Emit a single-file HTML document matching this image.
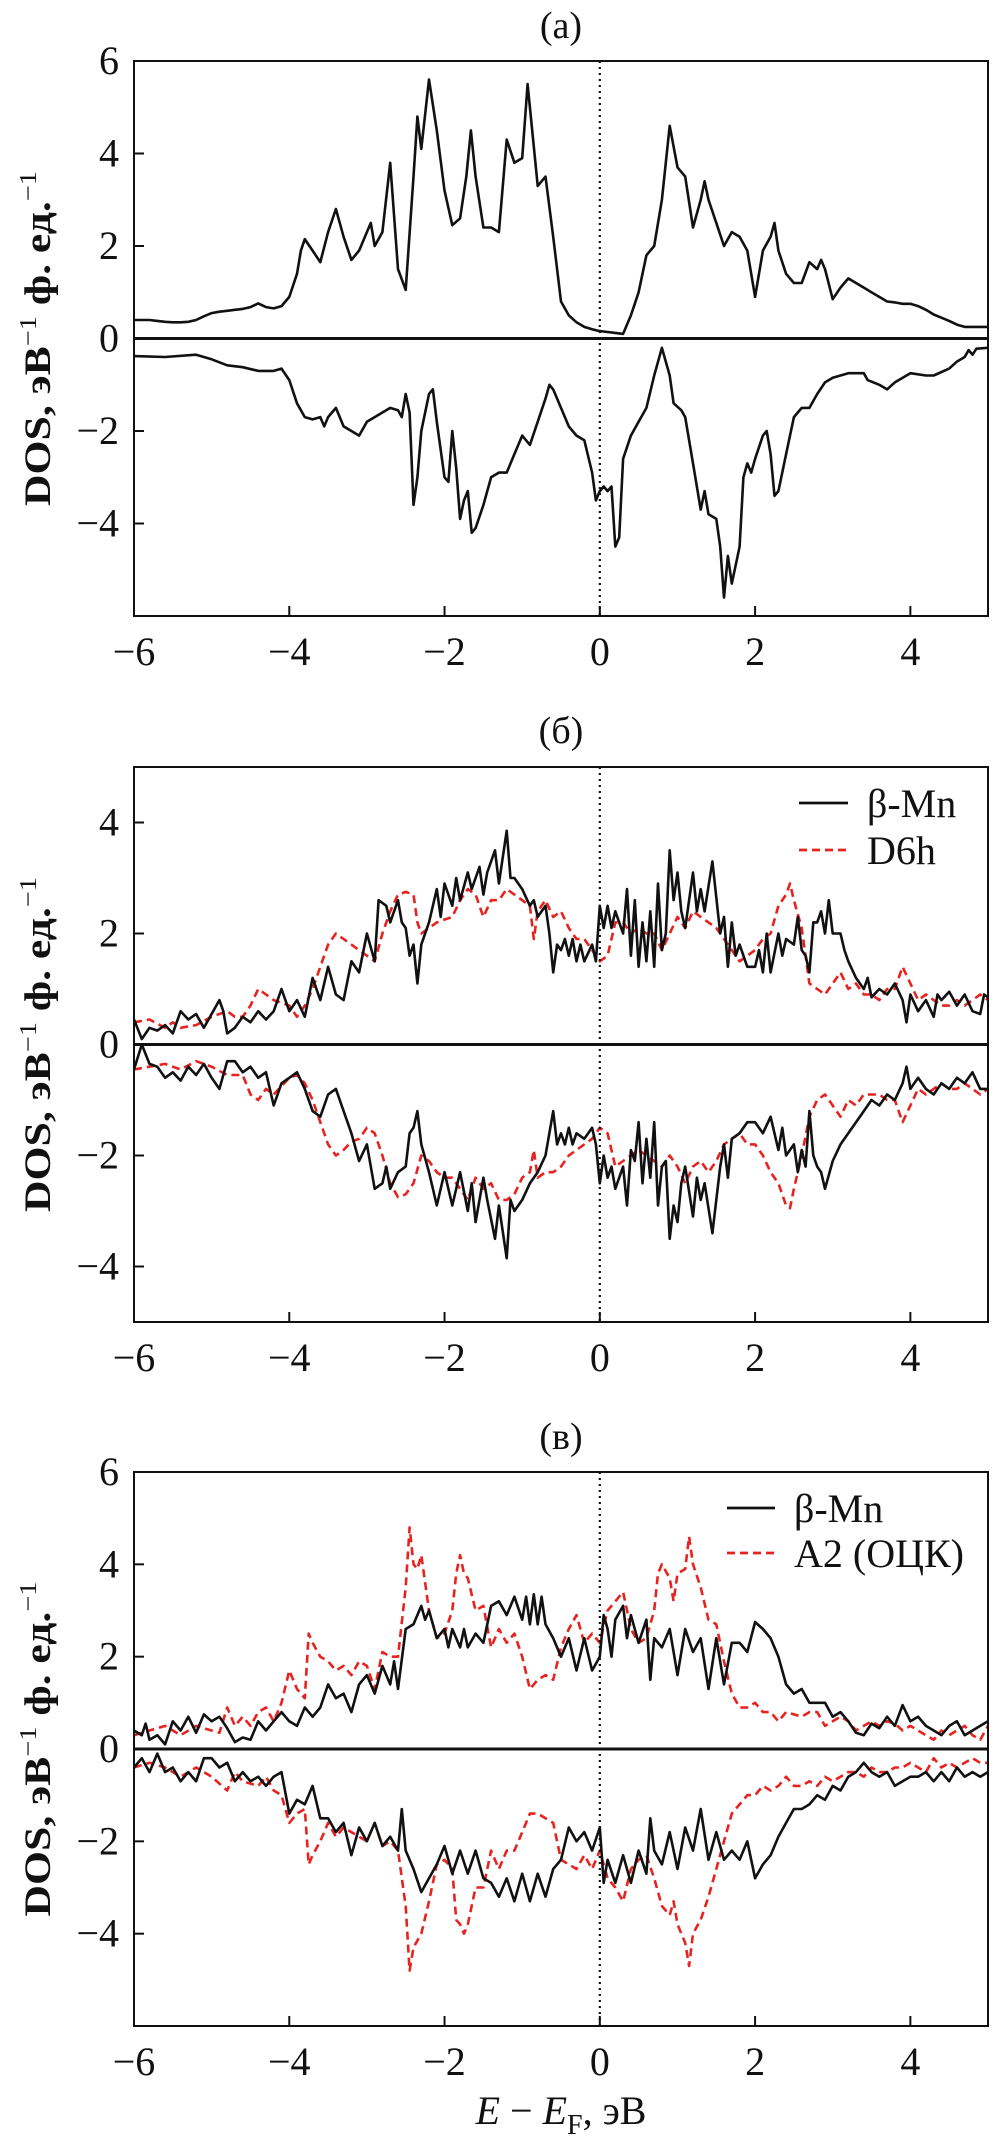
<!DOCTYPE html>
<html><head><meta charset="utf-8"><style>
html,body{margin:0;padding:0;background:#fff}
svg{display:block}
text{font-family:"Liberation Serif",serif;fill:#111}
</style></head><body>
<svg id="fig" width="995" height="2142" viewBox="0 0 995 2142" xmlns="http://www.w3.org/2000/svg"></svg>
<script>
const xTicks=[-6,-4,-2,0,2,4];
const yTicksA=[-4,-2,0,2,4,6];
const yTicksB=[-4,-2,0,2,4];
const yTicksC=[-4,-2,0,2,4,6];

const aUp=[[-6,0.4],[-5.9,0.4],[-5.8,0.4],[-5.7,0.38],[-5.6,0.36],[-5.5,0.35],[-5.4,0.35],[-5.3,0.36],[-5.2,0.4],[-5.1,0.48],[-5,0.55],[-4.9,0.58],[-4.8,0.6],[-4.7,0.62],[-4.6,0.64],[-4.5,0.68],[-4.4,0.76],[-4.3,0.68],[-4.2,0.65],[-4.1,0.7],[-4,0.9],[-3.9,1.4],[-3.85,1.9],[-3.8,2.15],[-3.7,1.9],[-3.6,1.65],[-3.5,2.3],[-3.4,2.8],[-3.3,2.2],[-3.2,1.7],[-3.1,1.9],[-3.0,2.3],[-2.95,2.5],[-2.9,2.0],[-2.8,2.3],[-2.7,3.8],[-2.6,1.5],[-2.5,1.05],[-2.4,3.5],[-2.35,4.8],[-2.3,4.1],[-2.2,5.6],[-2.1,4.5],[-2.0,3.2],[-1.9,2.45],[-1.8,2.6],[-1.72,3.5],[-1.66,4.5],[-1.6,3.5],[-1.5,2.4],[-1.4,2.4],[-1.3,2.3],[-1.2,4.3],[-1.1,3.8],[-1.0,3.9],[-0.93,5.5],[-0.9,5.0],[-0.8,3.3],[-0.7,3.5],[-0.6,2.2],[-0.5,0.8],[-0.4,0.5],[-0.3,0.35],[-0.2,0.25],[-0.1,0.2],[0,0.16],[0.1,0.14],[0.2,0.12],[0.3,0.1],[0.4,0.5],[0.5,1.0],[0.6,1.8],[0.7,2.0],[0.8,3.0],[0.9,4.6],[1.0,3.7],[1.1,3.5],[1.2,2.4],[1.3,3.0],[1.35,3.4],[1.4,3.0],[1.5,2.5],[1.6,2.0],[1.7,2.3],[1.8,2.2],[1.9,1.9],[2.0,0.9],[2.1,1.9],[2.2,2.2],[2.25,2.5],[2.3,1.9],[2.4,1.4],[2.5,1.2],[2.6,1.2],[2.7,1.65],[2.8,1.5],[2.85,1.7],[2.9,1.5],[3.0,0.85],[3.1,1.1],[3.2,1.3],[3.3,1.2],[3.4,1.1],[3.5,1.0],[3.6,0.9],[3.7,0.8],[3.8,0.78],[3.9,0.75],[4.0,0.75],[4.1,0.7],[4.2,0.62],[4.3,0.52],[4.4,0.45],[4.5,0.38],[4.6,0.3],[4.7,0.25],[4.8,0.25],[5.0,0.25]];
const aDown=[[-6,-0.38],[-5.6,-0.4],[-5.2,-0.35],[-5.0,-0.45],[-4.8,-0.58],[-4.6,-0.62],[-4.4,-0.7],[-4.2,-0.7],[-4.1,-0.65],[-4.0,-0.9],[-3.9,-1.4],[-3.8,-1.7],[-3.7,-1.75],[-3.6,-1.7],[-3.55,-1.9],[-3.5,-1.7],[-3.4,-1.5],[-3.3,-1.9],[-3.2,-2.0],[-3.1,-2.1],[-3.0,-1.8],[-2.9,-1.7],[-2.8,-1.6],[-2.7,-1.5],[-2.6,-1.55],[-2.55,-1.7],[-2.5,-1.2],[-2.45,-1.6],[-2.4,-3.6],[-2.35,-3.0],[-2.3,-2.0],[-2.2,-1.2],[-2.15,-1.1],[-2.1,-1.8],[-2.0,-3.0],[-1.95,-3.1],[-1.9,-2.0],[-1.85,-2.8],[-1.8,-3.9],[-1.75,-3.5],[-1.7,-3.3],[-1.65,-4.2],[-1.6,-4.1],[-1.5,-3.6],[-1.4,-3.0],[-1.3,-2.9],[-1.2,-2.9],[-1.1,-2.5],[-1.0,-2.1],[-0.9,-2.3],[-0.8,-1.8],[-0.7,-1.3],[-0.65,-1.0],[-0.6,-1.1],[-0.5,-1.5],[-0.4,-1.9],[-0.35,-2.0],[-0.3,-2.1],[-0.2,-2.2],[-0.1,-2.9],[-0.05,-3.5],[0,-3.3],[0.05,-3.2],[0.1,-3.3],[0.15,-3.2],[0.2,-4.5],[0.25,-4.3],[0.3,-2.6],[0.4,-2.1],[0.5,-1.8],[0.6,-1.5],[0.7,-0.8],[0.8,-0.2],[0.9,-0.8],[0.95,-1.4],[1.05,-1.55],[1.1,-1.7],[1.2,-2.7],[1.3,-3.7],[1.35,-3.3],[1.4,-3.8],[1.5,-3.9],[1.55,-4.5],[1.6,-5.6],[1.65,-4.7],[1.7,-5.3],[1.8,-4.5],[1.85,-3.0],[1.9,-2.7],[1.95,-2.9],[2.0,-2.6],[2.1,-2.1],[2.15,-2.0],[2.2,-2.5],[2.25,-3.4],[2.3,-3.3],[2.4,-2.5],[2.5,-1.7],[2.6,-1.5],[2.7,-1.5],[2.8,-1.2],[2.9,-0.95],[3.0,-0.85],[3.2,-0.75],[3.4,-0.75],[3.45,-0.9],[3.6,-1.0],[3.7,-1.1],[3.8,-0.95],[4.0,-0.75],[4.2,-0.8],[4.3,-0.8],[4.5,-0.65],[4.6,-0.5],[4.7,-0.4],[4.75,-0.25],[4.8,-0.35],[4.85,-0.22],[5.0,-0.2]];

const bBlackUp=[[-6,0.45],[-5.9,0.1],[-5.8,0.3],[-5.7,0.25],[-5.6,0.35],[-5.5,0.2],[-5.4,0.6],[-5.3,0.45],[-5.2,0.55],[-5.1,0.3],[-5.0,0.55],[-4.9,0.8],[-4.85,0.6],[-4.8,0.2],[-4.7,0.3],[-4.6,0.5],[-4.5,0.4],[-4.4,0.6],[-4.3,0.45],[-4.2,0.6],[-4.1,1.0],[-4.0,0.6],[-3.9,0.8],[-3.8,0.5],[-3.7,1.2],[-3.6,0.8],[-3.5,1.4],[-3.4,0.9],[-3.3,0.8],[-3.2,1.5],[-3.1,1.3],[-3.0,2.0],[-2.9,1.5],[-2.85,2.6],[-2.75,2.5],[-2.7,2.2],[-2.6,2.6],[-2.55,2.2],[-2.5,2.1],[-2.45,1.6],[-2.4,1.8],[-2.35,1.1],[-2.3,1.8],[-2.2,2.2],[-2.1,2.8],[-2.05,2.3],[-2.0,2.9],[-1.9,2.5],[-1.85,3.0],[-1.8,2.6],[-1.7,3.1],[-1.65,2.8],[-1.55,3.2],[-1.5,2.7],[-1.45,3.1],[-1.35,3.5],[-1.3,2.9],[-1.2,3.85],[-1.15,3.0],[-1.1,3.0],[-1.0,2.8],[-0.9,2.5],[-0.85,2.6],[-0.8,2.3],[-0.7,2.5],[-0.65,2.0],[-0.6,1.3],[-0.55,1.8],[-0.5,1.7],[-0.45,1.9],[-0.4,1.6],[-0.35,1.9],[-0.3,1.5],[-0.25,1.8],[-0.2,1.5],[-0.1,1.8],[-0.05,1.5],[0,2.5],[0.05,2.1],[0.1,2.5],[0.15,2.1],[0.2,2.4],[0.3,2.0],[0.35,2.8],[0.4,1.6],[0.45,2.6],[0.5,1.4],[0.55,2.2],[0.6,1.5],[0.65,2.4],[0.7,1.4],[0.75,2.9],[0.8,1.7],[0.85,2.0],[0.9,3.5],[0.95,2.6],[1.0,3.1],[1.05,2.4],[1.1,2.1],[1.2,3.1],[1.25,2.4],[1.3,2.8],[1.35,2.4],[1.45,3.3],[1.55,2.0],[1.6,2.3],[1.65,1.4],[1.7,2.2],[1.75,1.6],[1.8,1.8],[1.9,1.4],[2.0,1.4],[2.05,1.7],[2.1,1.3],[2.15,2.0],[2.2,1.3],[2.3,2.0],[2.35,1.6],[2.4,1.9],[2.5,1.8],[2.55,2.3],[2.6,1.7],[2.65,1.6],[2.7,1.3],[2.75,2.2],[2.8,2.2],[2.85,2.4],[2.9,2.0],[2.95,2.6],[3.0,2.0],[3.1,2.0],[3.15,1.7],[3.2,1.5],[3.3,1.2],[3.4,1.0],[3.45,1.2],[3.5,0.85],[3.6,1.0],[3.7,0.9],[3.8,1.1],[3.9,0.8],[3.95,0.4],[4.0,0.9],[4.1,0.6],[4.2,0.8],[4.3,0.5],[4.35,0.9],[4.4,0.8],[4.5,0.95],[4.6,0.7],[4.7,0.9],[4.8,0.6],[4.9,0.55],[4.95,0.9],[5.0,0.85]];
const bRedUp=[[-6,0.4],[-5.8,0.45],[-5.6,0.3],[-5.5,0.4],[-5.4,0.3],[-5.2,0.35],[-5.0,0.5],[-4.8,0.6],[-4.7,0.5],[-4.6,0.5],[-4.5,0.7],[-4.4,1.0],[-4.3,0.9],[-4.2,0.8],[-4.0,0.7],[-3.9,0.5],[-3.8,0.7],[-3.7,1.0],[-3.6,1.4],[-3.5,1.8],[-3.4,2.0],[-3.3,1.9],[-3.2,1.8],[-3.1,1.7],[-3.0,1.6],[-2.9,1.5],[-2.8,2.0],[-2.7,2.4],[-2.6,2.7],[-2.5,2.75],[-2.4,2.7],[-2.35,2.2],[-2.3,2.0],[-2.2,2.1],[-2.1,2.2],[-2.0,2.25],[-1.9,2.3],[-1.8,2.6],[-1.7,2.8],[-1.6,2.7],[-1.5,2.3],[-1.4,2.6],[-1.3,2.6],[-1.2,2.8],[-1.1,2.7],[-1.0,2.6],[-0.9,2.5],[-0.85,1.9],[-0.8,2.4],[-0.7,2.6],[-0.6,2.3],[-0.5,2.4],[-0.4,2.1],[-0.3,1.9],[-0.2,1.9],[-0.1,1.7],[0,1.5],[0.1,1.6],[0.2,2.2],[0.3,2.2],[0.4,2.0],[0.5,2.1],[0.6,2.0],[0.7,2.0],[0.8,1.7],[0.9,2.0],[1.0,2.3],[1.1,2.1],[1.2,2.4],[1.3,2.3],[1.4,2.2],[1.5,2.1],[1.6,1.9],[1.7,1.7],[1.8,1.5],[1.9,1.6],[2.0,1.7],[2.1,1.9],[2.2,2.0],[2.3,2.5],[2.4,2.7],[2.45,2.9],[2.5,2.6],[2.6,2.1],[2.7,1.1],[2.8,1.0],[2.9,0.9],[3.0,1.1],[3.1,1.3],[3.2,1.0],[3.3,1.1],[3.4,0.9],[3.5,0.9],[3.6,0.8],[3.7,1.0],[3.8,1.0],[3.9,1.4],[4.0,1.1],[4.1,0.8],[4.2,0.9],[4.3,0.8],[4.4,0.7],[4.5,0.7],[4.6,0.8],[4.7,0.7],[4.8,0.8],[4.9,0.9],[5.0,0.8]];
const bBlackDown=[[-6,-0.45],[-5.9,0.0],[-5.8,-0.35],[-5.7,-0.4],[-5.6,-0.6],[-5.5,-0.5],[-5.4,-0.65],[-5.3,-0.4],[-5.2,-0.55],[-5.1,-0.35],[-5.0,-0.6],[-4.9,-0.8],[-4.8,-0.3],[-4.7,-0.3],[-4.6,-0.5],[-4.5,-0.4],[-4.4,-0.6],[-4.3,-0.5],[-4.2,-1.1],[-4.1,-0.7],[-4.0,-0.6],[-3.9,-0.5],[-3.8,-0.8],[-3.7,-1.2],[-3.6,-1.3],[-3.5,-0.9],[-3.4,-0.8],[-3.3,-1.2],[-3.2,-1.6],[-3.1,-2.1],[-3.0,-1.8],[-2.9,-2.6],[-2.8,-2.5],[-2.75,-2.2],[-2.7,-2.6],[-2.6,-2.3],[-2.5,-2.2],[-2.45,-1.6],[-2.4,-1.5],[-2.35,-1.2],[-2.3,-1.8],[-2.2,-2.3],[-2.1,-2.9],[-2.05,-2.6],[-2.0,-2.3],[-1.9,-2.9],[-1.8,-2.3],[-1.7,-3.0],[-1.65,-2.5],[-1.6,-3.2],[-1.5,-2.4],[-1.45,-2.8],[-1.35,-3.5],[-1.3,-2.9],[-1.2,-3.85],[-1.15,-2.8],[-1.1,-3.0],[-1.0,-2.8],[-0.9,-2.5],[-0.8,-2.3],[-0.7,-2.0],[-0.6,-1.2],[-0.55,-1.8],[-0.5,-1.6],[-0.45,-1.8],[-0.4,-1.5],[-0.35,-1.8],[-0.3,-1.6],[-0.2,-1.7],[-0.1,-1.5],[-0.05,-1.8],[0,-2.5],[0.05,-2.0],[0.1,-2.4],[0.15,-2.2],[0.2,-2.6],[0.3,-2.2],[0.35,-2.9],[0.4,-1.9],[0.45,-2.1],[0.5,-1.4],[0.55,-2.5],[0.6,-1.7],[0.65,-2.4],[0.7,-1.4],[0.75,-2.9],[0.8,-2.2],[0.85,-2.1],[0.9,-3.5],[0.95,-2.9],[1.0,-3.2],[1.05,-2.5],[1.1,-2.2],[1.2,-3.1],[1.25,-2.4],[1.3,-2.8],[1.35,-2.5],[1.45,-3.4],[1.55,-2.2],[1.6,-1.8],[1.65,-2.4],[1.7,-1.7],[1.8,-1.6],[1.9,-1.4],[2.0,-1.4],[2.1,-1.6],[2.2,-1.3],[2.3,-1.9],[2.35,-1.5],[2.4,-2.0],[2.5,-1.8],[2.55,-2.3],[2.6,-1.9],[2.65,-2.2],[2.7,-1.2],[2.75,-2.0],[2.8,-2.2],[2.85,-2.3],[2.9,-2.6],[3.0,-2.1],[3.1,-1.8],[3.2,-1.6],[3.3,-1.4],[3.4,-1.2],[3.5,-1.0],[3.6,-1.1],[3.7,-0.9],[3.8,-1.0],[3.9,-0.7],[3.95,-0.4],[4.0,-0.8],[4.1,-0.6],[4.2,-0.8],[4.3,-0.9],[4.4,-0.7],[4.5,-0.8],[4.6,-0.6],[4.7,-0.7],[4.8,-0.5],[4.9,-0.8],[5.0,-0.8]];
const bRedDown=[[-6,-0.45],[-5.8,-0.4],[-5.6,-0.35],[-5.4,-0.45],[-5.2,-0.3],[-5.0,-0.4],[-4.8,-0.55],[-4.6,-0.55],[-4.5,-0.9],[-4.4,-1.0],[-4.3,-0.8],[-4.2,-0.9],[-4.0,-0.6],[-3.9,-0.55],[-3.8,-0.7],[-3.7,-1.0],[-3.6,-1.4],[-3.5,-1.8],[-3.4,-2.0],[-3.3,-1.9],[-3.2,-1.75],[-3.1,-1.7],[-3.0,-1.5],[-2.9,-1.6],[-2.8,-2.0],[-2.7,-2.5],[-2.6,-2.75],[-2.5,-2.7],[-2.4,-2.5],[-2.3,-2.0],[-2.2,-2.1],[-2.1,-2.3],[-2.0,-2.4],[-1.9,-2.4],[-1.8,-2.6],[-1.7,-2.8],[-1.6,-2.4],[-1.5,-2.6],[-1.4,-2.5],[-1.3,-2.8],[-1.2,-2.8],[-1.1,-2.7],[-1.0,-2.4],[-0.9,-2.3],[-0.85,-1.9],[-0.8,-2.4],[-0.7,-2.3],[-0.6,-2.3],[-0.5,-2.2],[-0.4,-2.0],[-0.3,-1.9],[-0.2,-1.8],[-0.1,-1.7],[0,-1.5],[0.1,-1.6],[0.2,-2.2],[0.3,-2.1],[0.4,-2.0],[0.5,-1.9],[0.6,-2.0],[0.7,-2.1],[0.8,-2.2],[0.9,-2.0],[1.0,-2.2],[1.1,-2.5],[1.2,-2.2],[1.3,-2.1],[1.4,-2.3],[1.5,-2.1],[1.6,-1.8],[1.7,-1.7],[1.8,-1.6],[1.9,-1.8],[2.0,-1.8],[2.1,-2.0],[2.2,-2.3],[2.3,-2.5],[2.4,-2.9],[2.45,-2.95],[2.5,-2.6],[2.6,-2.0],[2.7,-1.3],[2.8,-1.0],[2.9,-0.9],[3.0,-1.1],[3.1,-1.3],[3.2,-1.0],[3.3,-1.1],[3.4,-0.9],[3.5,-0.9],[3.6,-0.9],[3.7,-1.0],[3.8,-1.0],[3.9,-1.4],[4.0,-1.1],[4.1,-0.8],[4.2,-0.9],[4.3,-0.8],[4.4,-0.7],[4.5,-0.8],[4.6,-0.8],[4.7,-0.7],[4.8,-0.8],[4.9,-0.9],[5.0,-0.8]];

const cBlackUp=[[-6,0.4],[-5.9,0.3],[-5.85,0.55],[-5.8,0.2],[-5.7,0.3],[-5.6,0.1],[-5.5,0.6],[-5.4,0.4],[-5.3,0.7],[-5.2,0.35],[-5.1,0.75],[-5.0,0.6],[-4.9,0.7],[-4.8,0.45],[-4.7,0.15],[-4.6,0.25],[-4.5,0.2],[-4.4,0.6],[-4.3,0.4],[-4.2,0.6],[-4.1,0.8],[-4.0,0.6],[-3.9,0.5],[-3.8,0.9],[-3.7,0.7],[-3.6,0.9],[-3.5,1.4],[-3.4,1.1],[-3.3,1.2],[-3.2,0.8],[-3.1,1.4],[-3.0,1.6],[-2.9,1.2],[-2.8,1.8],[-2.7,1.4],[-2.65,1.9],[-2.6,1.3],[-2.5,2.6],[-2.4,2.7],[-2.3,3.1],[-2.25,2.8],[-2.2,3.0],[-2.1,2.4],[-2.0,2.6],[-1.95,2.2],[-1.9,2.6],[-1.8,2.2],[-1.75,2.6],[-1.7,2.2],[-1.6,2.5],[-1.5,2.3],[-1.4,3.1],[-1.3,3.2],[-1.2,2.9],[-1.1,3.3],[-1.0,2.8],[-0.95,3.3],[-0.9,2.7],[-0.85,3.35],[-0.8,2.7],[-0.75,3.3],[-0.7,2.7],[-0.6,2.4],[-0.5,2.0],[-0.4,2.4],[-0.3,1.7],[-0.2,2.4],[-0.1,1.7],[0,2.0],[0.05,2.9],[0.1,2.6],[0.15,2.0],[0.2,2.8],[0.3,3.1],[0.35,2.4],[0.4,2.9],[0.5,2.3],[0.6,2.8],[0.65,1.5],[0.7,2.4],[0.8,2.2],[0.9,2.6],[1.0,1.6],[1.1,2.6],[1.2,2.1],[1.3,2.4],[1.4,1.3],[1.5,2.4],[1.6,1.4],[1.7,2.3],[1.8,2.3],[1.9,2.1],[2.0,2.75],[2.1,2.6],[2.2,2.4],[2.3,2.0],[2.4,1.4],[2.5,1.2],[2.6,1.3],[2.7,1.0],[2.8,1.0],[2.9,1.0],[3.0,0.7],[3.1,0.8],[3.2,0.6],[3.3,0.35],[3.4,0.3],[3.5,0.55],[3.6,0.45],[3.7,0.7],[3.8,0.5],[3.9,0.95],[4.0,0.6],[4.1,0.7],[4.2,0.5],[4.3,0.4],[4.4,0.3],[4.5,0.5],[4.6,0.6],[4.7,0.3],[4.8,0.4],[4.9,0.5],[5.0,0.6]];
const cRedUp=[[-6,0.3],[-5.8,0.4],[-5.6,0.5],[-5.4,0.3],[-5.2,0.5],[-5.0,0.4],[-4.9,0.35],[-4.8,0.9],[-4.7,0.5],[-4.6,0.7],[-4.5,0.5],[-4.4,0.8],[-4.3,0.9],[-4.2,0.6],[-4.1,1.0],[-4.0,1.7],[-3.9,1.3],[-3.8,1.1],[-3.75,2.5],[-3.7,2.3],[-3.6,2.0],[-3.5,1.9],[-3.4,1.7],[-3.3,1.8],[-3.2,1.6],[-3.1,1.9],[-3.0,1.8],[-2.9,1.3],[-2.8,2.1],[-2.7,2.0],[-2.6,2.0],[-2.5,3.5],[-2.45,4.8],[-2.4,4.0],[-2.35,3.9],[-2.3,4.2],[-2.2,3.0],[-2.1,2.4],[-2.0,2.5],[-1.9,3.0],[-1.85,3.8],[-1.8,4.2],[-1.75,3.8],[-1.7,3.7],[-1.6,3.0],[-1.5,3.1],[-1.4,2.2],[-1.3,2.6],[-1.2,2.3],[-1.1,2.5],[-1.0,2.0],[-0.9,1.3],[-0.8,1.5],[-0.7,1.6],[-0.6,1.5],[-0.5,2.2],[-0.4,2.6],[-0.3,2.9],[-0.2,2.3],[-0.1,2.5],[0,2.3],[0.1,3.0],[0.2,3.2],[0.3,3.4],[0.4,2.6],[0.5,2.3],[0.6,2.4],[0.7,3.0],[0.75,3.8],[0.8,4.0],[0.9,3.7],[0.95,3.2],[1.0,3.8],[1.1,3.9],[1.15,4.6],[1.2,4.0],[1.3,3.5],[1.4,2.8],[1.5,2.7],[1.6,1.9],[1.7,1.2],[1.8,0.9],[1.9,0.9],[2.0,1.0],[2.1,0.8],[2.2,0.8],[2.3,0.6],[2.4,0.8],[2.5,0.75],[2.6,0.7],[2.7,0.8],[2.8,0.8],[2.9,0.5],[3.0,0.6],[3.1,0.7],[3.2,0.6],[3.3,0.4],[3.4,0.5],[3.5,0.6],[3.6,0.5],[3.7,0.6],[3.8,0.55],[3.9,0.4],[4.0,0.5],[4.1,0.4],[4.2,0.3],[4.3,0.2],[4.4,0.4],[4.5,0.3],[4.6,0.4],[4.7,0.5],[4.8,0.3],[4.9,0.2],[5.0,0.5]];
const cBlackDown=[[-6,-0.4],[-5.9,-0.2],[-5.8,-0.5],[-5.7,-0.1],[-5.6,-0.5],[-5.5,-0.4],[-5.4,-0.7],[-5.3,-0.5],[-5.2,-0.7],[-5.1,-0.2],[-5.0,-0.2],[-4.9,-0.4],[-4.8,-0.3],[-4.7,-0.7],[-4.6,-0.5],[-4.5,-0.7],[-4.4,-0.6],[-4.3,-0.8],[-4.2,-0.6],[-4.1,-0.5],[-4.0,-1.4],[-3.9,-1.1],[-3.8,-1.2],[-3.7,-0.8],[-3.6,-1.5],[-3.5,-1.5],[-3.4,-1.8],[-3.3,-1.6],[-3.2,-2.3],[-3.1,-1.7],[-3.0,-2.0],[-2.9,-1.6],[-2.8,-2.1],[-2.7,-1.9],[-2.6,-2.2],[-2.55,-1.3],[-2.5,-2.2],[-2.4,-2.6],[-2.3,-3.1],[-2.2,-2.8],[-2.1,-2.5],[-2.0,-2.1],[-1.9,-2.7],[-1.8,-2.2],[-1.7,-2.7],[-1.6,-2.2],[-1.5,-2.8],[-1.4,-2.9],[-1.3,-3.2],[-1.2,-2.8],[-1.1,-3.3],[-1.0,-2.7],[-0.9,-3.3],[-0.8,-2.7],[-0.7,-3.2],[-0.6,-2.6],[-0.5,-2.4],[-0.4,-1.7],[-0.3,-2.0],[-0.2,-1.8],[-0.1,-2.2],[0,-1.7],[0.05,-2.9],[0.1,-2.4],[0.2,-2.9],[0.3,-2.3],[0.4,-2.9],[0.5,-2.2],[0.6,-2.7],[0.65,-1.5],[0.7,-2.2],[0.8,-2.5],[0.9,-1.8],[1.0,-2.6],[1.1,-1.7],[1.2,-2.2],[1.3,-1.3],[1.4,-2.4],[1.5,-1.8],[1.6,-2.4],[1.7,-2.2],[1.8,-2.4],[1.9,-2.0],[2.0,-2.8],[2.1,-2.5],[2.2,-2.3],[2.3,-1.9],[2.4,-1.6],[2.5,-1.3],[2.6,-1.3],[2.7,-1.2],[2.8,-1.0],[2.9,-1.1],[3.0,-0.8],[3.1,-0.9],[3.2,-0.6],[3.3,-0.5],[3.4,-0.3],[3.5,-0.5],[3.6,-0.6],[3.7,-0.5],[3.8,-0.8],[3.9,-0.7],[4.0,-0.6],[4.1,-0.6],[4.2,-0.5],[4.3,-0.7],[4.4,-0.5],[4.5,-0.7],[4.6,-0.4],[4.7,-0.6],[4.8,-0.5],[4.9,-0.6],[5.0,-0.5]];
const cRedDown=[[-6,-0.4],[-5.8,-0.3],[-5.6,-0.4],[-5.4,-0.6],[-5.2,-0.4],[-5.0,-0.6],[-4.8,-0.9],[-4.7,-0.5],[-4.6,-0.7],[-4.4,-0.8],[-4.3,-0.6],[-4.2,-0.9],[-4.1,-1.0],[-4.0,-1.6],[-3.9,-1.4],[-3.8,-1.3],[-3.75,-2.5],[-3.7,-2.3],[-3.6,-2.0],[-3.5,-1.6],[-3.4,-1.9],[-3.3,-1.7],[-3.2,-1.8],[-3.1,-1.9],[-3.0,-2.0],[-2.9,-1.6],[-2.8,-2.1],[-2.7,-2.0],[-2.6,-2.2],[-2.5,-3.4],[-2.45,-4.8],[-2.4,-4.3],[-2.3,-4.0],[-2.2,-3.3],[-2.1,-2.5],[-2.0,-2.4],[-1.9,-2.6],[-1.85,-3.7],[-1.8,-3.8],[-1.75,-4.0],[-1.7,-3.8],[-1.6,-3.0],[-1.5,-3.0],[-1.4,-2.2],[-1.3,-2.6],[-1.2,-2.2],[-1.1,-2.2],[-1.0,-1.8],[-0.9,-1.4],[-0.8,-1.4],[-0.7,-1.5],[-0.6,-1.6],[-0.5,-2.4],[-0.4,-2.5],[-0.3,-2.6],[-0.2,-2.3],[-0.1,-2.6],[0,-2.2],[0.1,-2.8],[0.2,-3.0],[0.3,-3.3],[0.4,-2.6],[0.5,-2.4],[0.6,-2.3],[0.7,-2.8],[0.8,-3.4],[0.9,-3.6],[0.95,-3.3],[1.0,-3.8],[1.1,-4.2],[1.15,-4.7],[1.2,-4.0],[1.3,-3.7],[1.4,-3.2],[1.5,-2.6],[1.6,-2.0],[1.7,-1.4],[1.8,-1.2],[1.9,-1.0],[2.0,-1.0],[2.1,-0.8],[2.2,-0.9],[2.3,-0.8],[2.4,-0.6],[2.5,-0.8],[2.6,-0.8],[2.7,-0.7],[2.8,-0.8],[2.9,-0.6],[3.0,-0.7],[3.1,-0.6],[3.2,-0.5],[3.3,-0.5],[3.4,-0.6],[3.5,-0.4],[3.6,-0.5],[3.7,-0.5],[3.8,-0.4],[3.9,-0.4],[4.0,-0.3],[4.1,-0.4],[4.2,-0.5],[4.3,-0.2],[4.4,-0.4],[4.5,-0.3],[4.6,-0.4],[4.7,-0.3],[4.8,-0.2],[4.9,-0.3],[5.0,-0.3]];

const NS='http://www.w3.org/2000/svg';
const svg=document.getElementById('fig');
const L=134,R=988,XMIN=-6,XMAX=5;
function sx(v){return L+(v-XMIN)/(XMAX-XMIN)*(R-L);}
function mk(tag,attrs,parent){const e=document.createElementNS(NS,tag);for(const k in attrs)e.setAttribute(k,attrs[k]);(parent||svg).appendChild(e);return e;}

function panel(cfg){
  const g=mk('g',{});
  
  
  const sy=v=>cfg.top+(cfg.ymax-v)/(cfg.ymax-cfg.ymin)*(cfg.bottom-cfg.top);
  const t=mk('text',{x:561,y:cfg.titleY,'text-anchor':'middle','font-size':38},g);
  t.textContent=cfg.title;
  
  
  // series
  cfg.series.forEach(s=>{
    const d=s.data.map((p,i)=>(i?'L':'M')+sx(p[0]).toFixed(1)+' '+sy(p[1]).toFixed(1)).join(' ');
    const p=mk('path',{d:d,fill:'none',stroke:s.color,'stroke-width':2.6,'stroke-linejoin':'round','stroke-dasharray':s.dash||'none'},g);
    
    
  });
  // zero line
  const z=mk('line',{x1:L,x2:R,y1:sy(0),y2:sy(0),stroke:'#111','stroke-width':3},g);
  
  
  // fermi dotted
  const f=mk('line',{x1:sx(0),x2:sx(0),y1:cfg.top,y2:cfg.bottom,stroke:'#111','stroke-width':2.2,'stroke-dasharray':'2 4'},g);
  
  
  // frame
  const fr=mk('rect',{x:L,y:cfg.top,width:R-L,height:cfg.bottom-cfg.top,fill:'none',stroke:'#111','stroke-width':2},g);
  
  
  xTicks.forEach(v=>{
    const tk=mk('line',{x1:sx(v),x2:sx(v),y1:cfg.bottom,y2:cfg.bottom-10,stroke:'#111','stroke-width':2},g);
    
    
    const lb=mk('text',{x:sx(v),y:cfg.bottom+49,'text-anchor':'middle','font-size':40},g);
    lb.textContent=v<0?'\u2212'+(-v):String(v);
    
    
  });
  cfg.yticks.forEach(v=>{
    const tk=mk('line',{x1:L,x2:L+10,y1:sy(v),y2:sy(v),stroke:'#111','stroke-width':2},g);
    
    
    const lb=mk('text',{x:119,y:sy(v)+13,'text-anchor':'end','font-size':40},g);
    lb.textContent=v<0?'\u2212'+(-v):String(v);
    
    
  });
  const yc=sy(0);
  const yl=mk('text',{x:0,y:0,transform:`translate(50 ${yc}) rotate(-90)`,'text-anchor':'middle','font-size':37,'font-weight':'bold',textLength:335,lengthAdjust:'spacingAndGlyphs'},g);
  yl.innerHTML='DOS, эВ<tspan dy="-14" font-size="24" font-weight="normal">\u22121</tspan><tspan dy="14"> ф. ед.</tspan><tspan dy="-14" font-size="24" font-weight="normal">\u22121</tspan>';
  
  
  if(cfg.legend){
    cfg.legend.forEach((it,i)=>{
      const yy=cfg.legend.y0+i*cfg.legend.dy;
      const ln=mk('line',{x1:cfg.legend.x1,x2:cfg.legend.x2,y1:yy,y2:yy,stroke:it.color,'stroke-width':2.8,'stroke-dasharray':it.dash||'none'},g);
      
      
      const tx=mk('text',{x:cfg.legend.tx,y:yy+14,'font-size':40},g);
      tx.textContent=it.label;
      
      
    });
  }
}

const leg1=[{label:'β-Mn',color:'#111'},{label:'D6h',color:'#e8231f',dash:'8 5'}];
leg1.x1=799;leg1.x2=848;leg1.tx=867;leg1.y0=803;leg1.dy=47;
const leg2=[{label:'β-Mn',color:'#111'},{label:'A2 (ОЦК)',color:'#e8231f',dash:'8 5'}];
leg2.x1=727;leg2.x2=775;leg2.tx=794;leg2.y0=1508;leg2.dy=45;

panel({name:'panel-a',title:'(a)',titleY:38,top:61,bottom:616,ymin:-6,ymax:6,yticks:yTicksA,
  series:[{name:'dos-spin-up',data:aUp,color:'#111'},{name:'dos-spin-down',data:aDown,color:'#111'}]});
panel({name:'panel-b',title:'(б)',titleY:743,top:767,bottom:1322,ymin:-5,ymax:5,yticks:yTicksB,legend:leg1,
  series:[{name:'d6h-up',data:bRedUp,color:'#e8231f',dash:'8 5'},{name:'d6h-down',data:bRedDown,color:'#e8231f',dash:'8 5'},
          {name:'beta-mn-up',data:bBlackUp,color:'#111'},{name:'beta-mn-down',data:bBlackDown,color:'#111'}]});
panel({name:'panel-c',title:'(в)',titleY:1449,top:1472,bottom:2026,ymin:-6,ymax:6,yticks:yTicksC,legend:leg2,
  series:[{name:'a2-up',data:cRedUp,color:'#e8231f',dash:'8 5'},{name:'a2-down',data:cRedDown,color:'#e8231f',dash:'8 5'},
          {name:'beta-mn-up',data:cBlackUp,color:'#111'},{name:'beta-mn-down',data:cBlackDown,color:'#111'}]});

const xl=mk('text',{x:561,y:2124,'text-anchor':'middle','font-size':40});
xl.innerHTML='<tspan font-style="italic">E</tspan> \u2212 <tspan font-style="italic">E</tspan><tspan dy="10" font-size="28">F</tspan><tspan dy="-10">, эВ</tspan>';


</script>
</body></html>
